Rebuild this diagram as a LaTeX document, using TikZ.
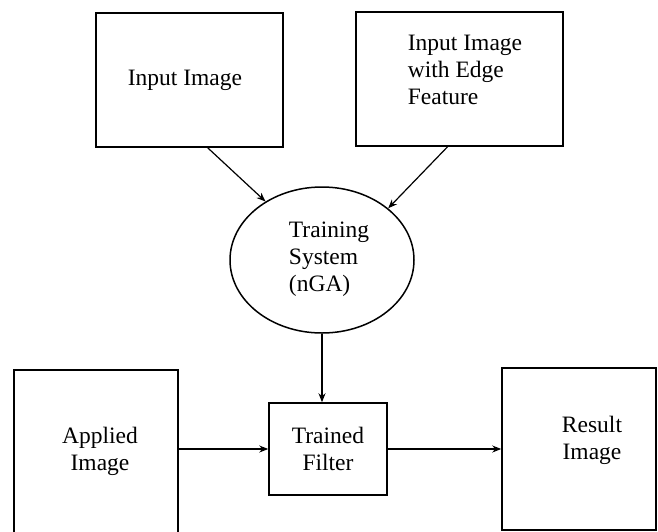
\documentclass[tikz,border=0pt]{standalone}
\usepackage{fontspec}
\setmainfont{Liberation Serif}
\usetikzlibrary{shapes.geometric,arrows.meta,calc}
\begin{document}
\begin{tikzpicture}[x=1pt,y=-1pt,
  box/.style={draw,line width=1.5pt,inner sep=0pt,rectangle},
  txt/.style={font=\fontsize{23.5}{27}\selectfont,inner sep=0pt},
  arr/.style={line width=1.2pt,-{Stealth[length=9pt,width=7pt]}}]
\useasboundingbox (0,0) rectangle (658,531);
\clip (0,0) rectangle (658,531);
% boxes
\node[box,minimum width=187pt,minimum height=134pt] (in) at (189.5,80) {};
\node[txt] (intxt) at (185,80) {Input Image};
\node[box,minimum width=207pt,minimum height=134pt] (edge) at (459.5,79) {};
\node[txt,align=left] (edgetxt) at (465,70) {Input Image\\ with Edge\\ Feature};
\node[draw,line width=1.5pt,ellipse,minimum width=184pt,minimum height=146pt,inner sep=0pt] (ts) at (322,260) {};
\node[txt,align=left] (tstxt) at (329,259.5) {Training\\System\\(nGA)};
\node[box,minimum width=118pt,minimum height=92pt,txt,align=center] (tf) at (328,449) {Trained\\Filter};
\node[box,minimum width=164pt,minimum height=180pt] (ap) at (96,460) {};
\node[txt,align=center] (aptxt) at (100,451) {Applied\\Image};
\node[box,minimum width=154pt,minimum height=162pt] (res) at (579,449) {};
\node[txt,align=center] (restxt) at (592,440) {Result\\ Image};
% connectors
\draw[arr] (in.-75.4) -- (ts.134.5);
\draw[arr] (edge.-100.6) -- (ts.38.7);
\draw[arr] (ts.south) -- (ts.south |- tf.north);
\draw[arr] (tf.west -| ap.east) -- (tf.west);
\draw[arr] (tf.east) -- (tf.east -| res.west);
\end{tikzpicture}
\end{document}
